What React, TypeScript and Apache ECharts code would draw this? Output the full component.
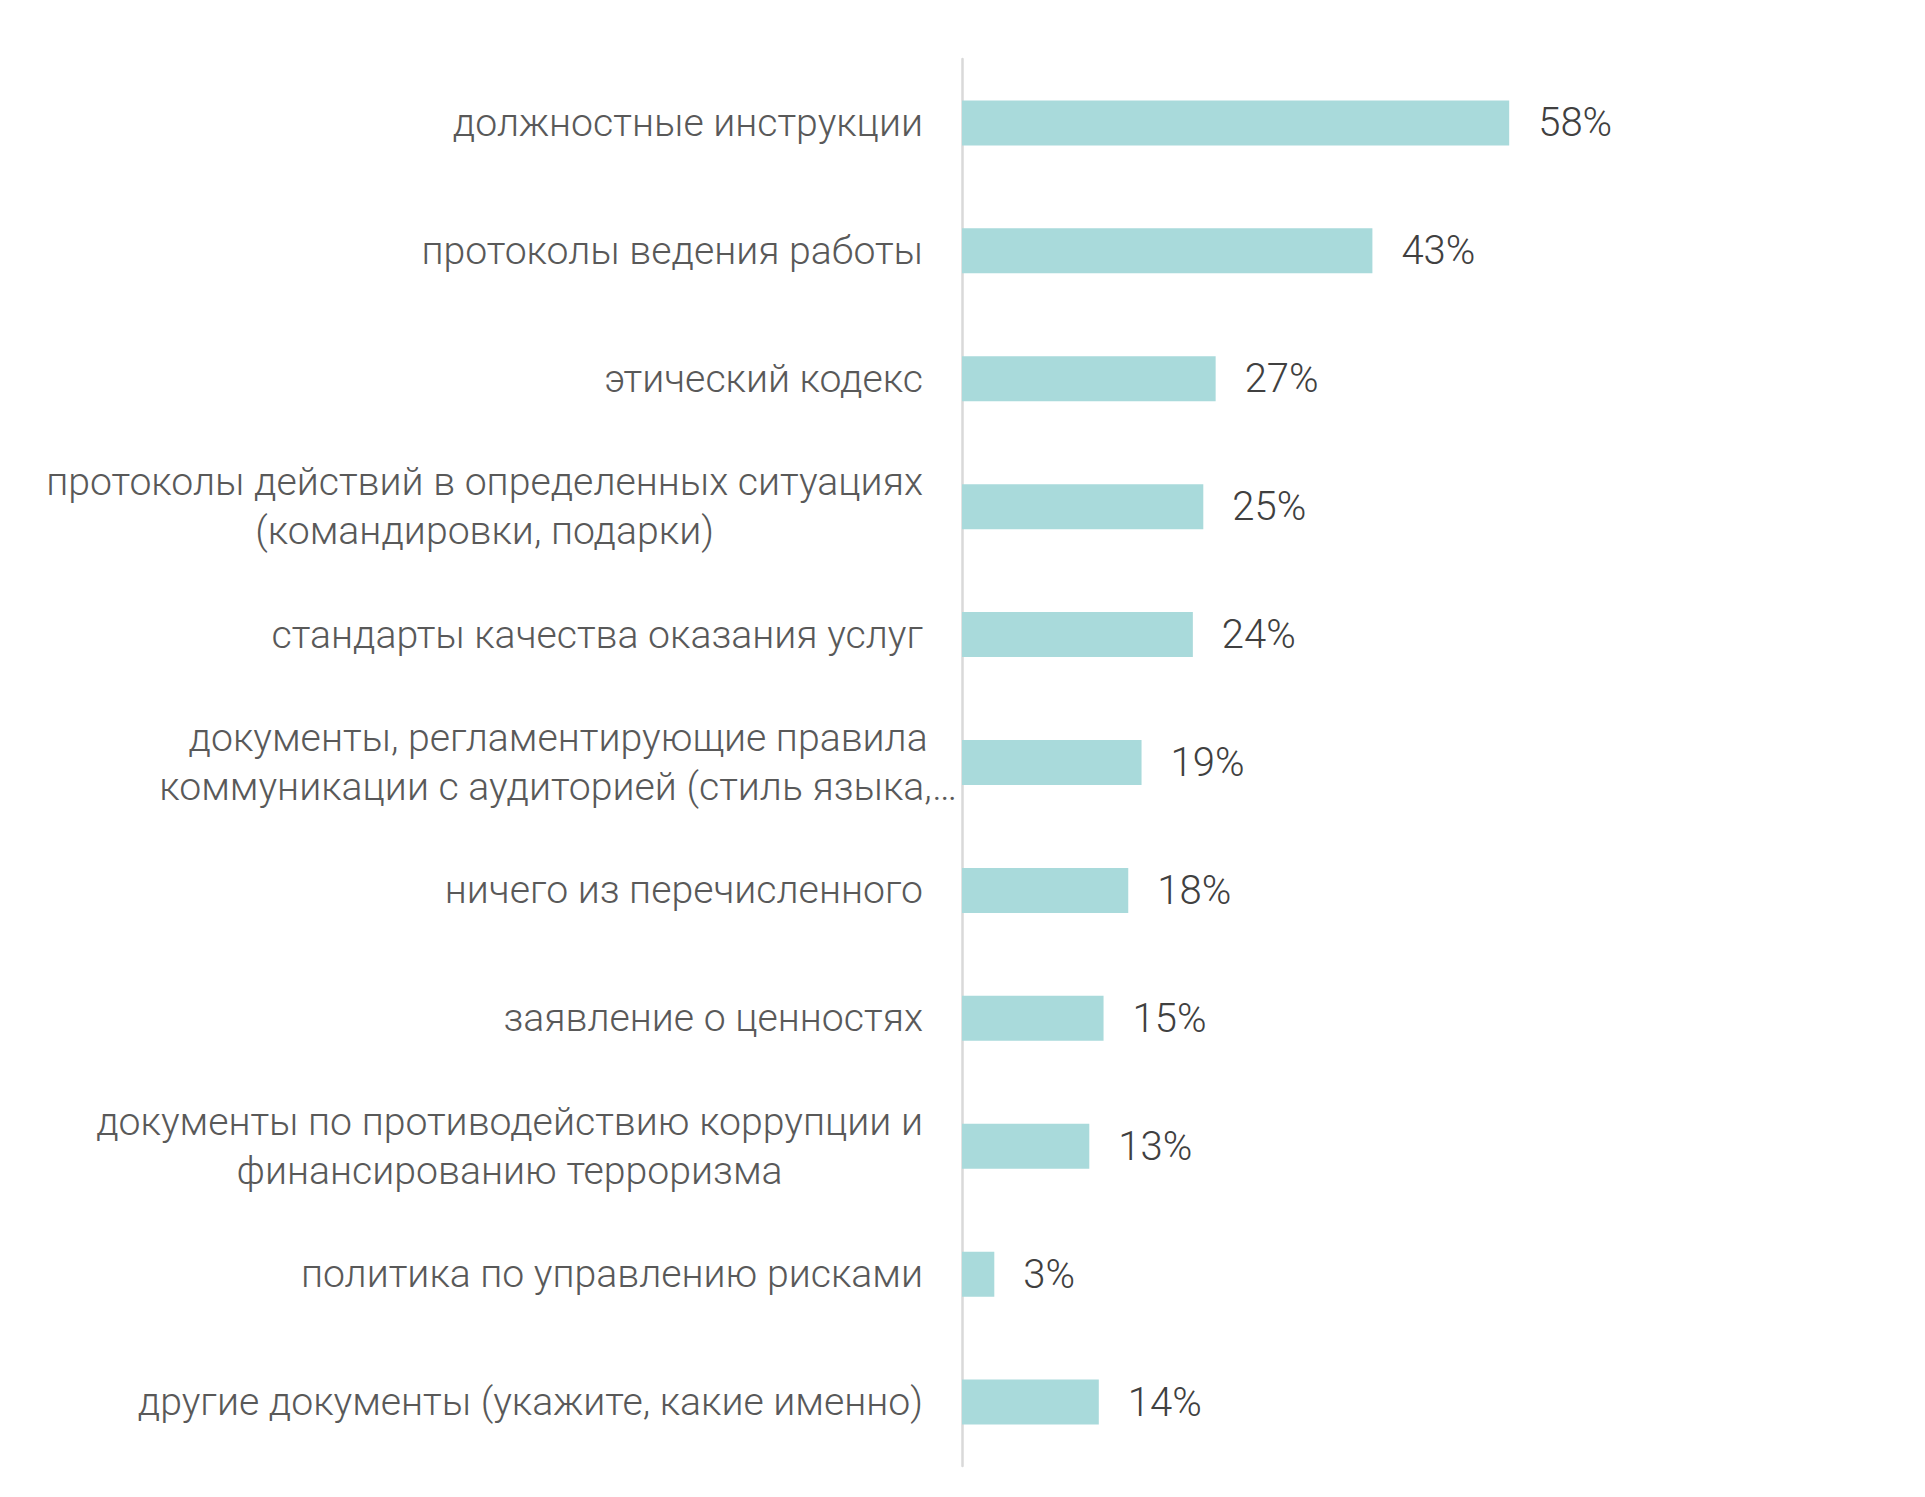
import React, { useEffect, useRef } from "react";
import * as echarts from "echarts";

const categoryLines: string[][] = [
  ["должностные инструкции"],
  ["протоколы ведения работы"],
  ["этический кодекс"],
  ["протоколы действий в определенных ситуациях", "(командировки, подарки)"],
  ["стандарты качества оказания услуг"],
  ["документы, регламентирующие правила", "коммуникации с аудиторией (стиль языка,…"],
  ["ничего из перечисленного"],
  ["заявление о ценностях"],
  ["документы по противодействию коррупции и", "финансированию терроризма"],
  ["политика по управлению рисками"],
  ["другие документы (укажите, какие именно)"],
];

const values: number[] = [57.6, 43.2, 26.7, 25.4, 24.3, 18.9, 17.5, 14.9, 13.4, 3.4, 14.4];

const FONT = "Roboto, 'Liberation Sans', Arial, sans-serif";

export default function App() {
  const ref = useRef<HTMLDivElement>(null);
  useEffect(() => {
    if (!ref.current) return;
    const chart = echarts.init(ref.current, undefined, { renderer: "svg" });
    const catData = categoryLines.map((lines, i) => {
      const item: any = { value: lines.map((l) => `{c|${l}}`).join("\n") };
      if (i === 5) item.textStyle = { padding: [0, -34, 0, 0] };
      return item;
    });
    chart.setOption({
      animation: false,
      backgroundColor: "#ffffff",
      grid: { left: 962, right: 13, top: 59, bottom: 31, containLabel: false },
      xAxis: {
        type: "value",
        min: 0,
        max: 100,
        show: false,
        splitLine: { show: false },
      },
      yAxis: {
        type: "category",
        inverse: true,
        data: catData,
        axisLine: { show: true, lineStyle: { color: "#d9d9d9", width: 2.5 } },
        axisTick: { show: false },
        axisLabel: {
          margin: 39,
          align: "right",
          rich: {
            c: {
              align: "center",
              fontSize: 39.2,
              lineHeight: 49,
              color: "#595959",
              fontFamily: FONT,
              fontWeight: 300,
            },
          },
        },
      },
      series: [
        {
          type: "bar",
          data: values,
          barWidth: 45,
          itemStyle: { color: "#a9dadb" },
          label: {
            show: true,
            position: "right",
            distance: 29,
            formatter: (p: any) => `${Math.round(p.value)}%`,
            fontSize: 40,
            fontFamily: FONT,
            fontWeight: 300,
            color: "#404040",
          },
        },
      ],
    });
    return () => chart.dispose();
  }, []);
  return (
    <div
      ref={ref}
      style={{ position: "absolute", left: 0, top: 0, width: 1925, height: 1497 }}
    />
  );
}
